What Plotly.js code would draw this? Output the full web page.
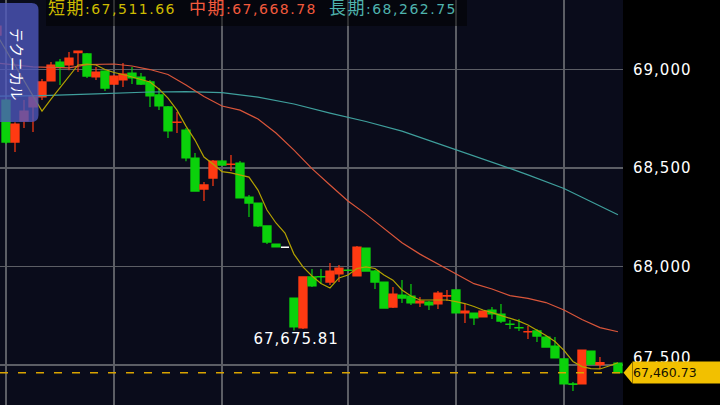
<!DOCTYPE html>
<html>
<head>
<meta charset="utf-8">
<script src="https://cdn.plot.ly/plotly-3.0.1.min.js"></script>
<style>
html,body{margin:0;padding:0;background:#000;overflow:hidden;}
#chart{width:720px;height:405px;}
.ytick text{letter-spacing:1px;}
.annotation[data-index="0"] .annotation-text,
.annotation[data-index="1"] .annotation-text,
.annotation[data-index="2"] .annotation-text{letter-spacing:1.5px;}
.annotation[data-index="3"] .annotation-text{letter-spacing:1px;}
.annotation[data-index="4"] .annotation-text{letter-spacing:1px;}
</style>
</head>
<body>
<div id="chart"></div>
<script>
// ---- data ----
const idx = [-1,0,1,2,3,4,5,6,7,8,9,10,11,12,13,14,15,16,17,18,19,20,21,22,23,24,25,26,27,28,29,30,31,32,33,34,35,36,37,38,39,40,41,42,43,44,45,46,47,48,49,50,51,52,53,54,55,56,57,58,59,60,61,62,63,64,65,66,68];
const opens = [69175,68845,68632,68739,68810,68861,68942,69038,69023,69086,69079,68962,68992,68926,68947,68982,68962,68937,68871,68810,68731,68693,68551,68393,68449,68535,68518,68525,68353,68322,68206,68114,68098,67840,67688,67947,67949,67921,67962,67982,67952,68094,67977,67921,67794,67855,67850,67815,67820,67810,67850,67881,67764,67764,67744,67779,67759,67708,67690,67668,67673,67642,67596,67531,67404,67404,67571,67502,67510];
const highs = [69231,68850,68733,68845,68866,68952,69038,69053,69089,69094,69084,69013,68997,68972,69033,69013,68982,68947,68906,68815,68784,68703,68576,68429,68541,68541,68566,68536,68363,68322,68206,68114,68098,67840,67947,67987,67987,68018,68008,67985,68104,68094,67982,67921,67896,67931,67911,67845,67825,67876,67881,67881,67810,67764,67774,67794,67810,67728,67734,67698,67683,67647,67642,67536,67414,67576,67571,67541,67510];
const lows = [69165,68622,68581,68703,68683,68845,68942,68921,68997,68987,68957,68947,68891,68921,68911,68926,68921,68810,68794,68652,68678,68535,68383,68333,68409,68515,68485,68348,68251,68201,68114,68099,68098,67675.81,67683,67896,67911,67906,67921,67977,67952,67977,67886,67789,67789,67815,67805,67794,67779,67784,67825,67764,67713,67703,67744,67734,67713,67683,67673,67632,67617,67591,67536,67404,67368,67404,67500,67480,67460.73];
const closes = [69221,68632,68723,68789,68861,68937,69023,69013,69058,69094,68967,68987,68906,68967,68977,68957,68926,68866,68815,68688,68733,68551,68383,68414,68535,68515,68520,68348,68322,68206,68124,68099,68098,67693,67947,67901,67947,67977,67992,67980,68099,67977,67921,67789,67860,67840,67815,67825,67805,67865,67852,67764,67774,67739,67774,67759,67723,67706,67688,67669,67647,67591,67536,67404,67401,67576,67505,67512,67460.73];

const shortIdx = [-1,0,1,2,3,4,5,6,7,8,9,10,11,12,13,14,15,16,17,18,19,20,21,22,23,24,25,26,27,28,29,30,31,32,33,34,35,36,37,38,39,40,41,42,43,44,45,46,47,48,49,50,51,52,53,54,55,56,57,58,59,60,61,62,63,64,65,66,67,68];
const shortMA = [69175,69099,69023,68947,68865,68789,68850,68906,68964,69023,69028,69023,69000,68985,68975,68962,68949,68937,68901,68855,68794,68713,68642,68556,68520,68482,68475,68464,68454,68388,68287,68221,68170,68063,67998,67952,67914,67891,67942,67957,67990,67998,67990,67957,67931,67881,67850,67830,67830,67830,67830,67822,67812,67797,67779,67766,67751,67739,67723,67703,67678,67650,67619,67574,67518,67492,67482,67480,67495,67511.66];
const midIdx = [-1,0,3,7,9,12,14,16,18,20,22,24,26,28,30,32,34,36,38,40,42,44,46,48,50,52,54,56,58,60,62,64,66,68];
const midMA = [69033,69028,69013,69008,69025,69028,69018,69000,68975,68921,68863,68815,68794,68749,68678,68591,68497,68414,68333,68266,68195,68121,68063,68013,67959,67913,67886,67852,67838,67817,67779,67731,67690,67668.78];
const longIdx = [-1,4,10,16,20,24,28,32,36,40,44,48,52,56,58,60,62,64,66,68];
const longMA = [68865,68868,68876,68886,68888,68883,68860,68825,68779,68736,68687,68625,68563,68498,68465,68430,68396,68352,68308,68262.75];

const maNames = ['短期','中期','長期'];
const yTicks = [67500,68000,68500,69000];
const gridIdx = [0,12,24,38,50,62];
const buttonLabel = 'テクニカル';

// ---- styles ----
const RED = '#ff3a12', GREEN = '#0bd10b';
const MA_LINE = ['#b3a200','#d9553a','#3f9f9c'];
const MA_TEXT = ['#cdbb00','#f25a3d','#4fb3ad'];
const TAG = '#f2c000';
const FONT = 'DejaVu Sans, Noto Sans CJK JP, sans-serif';
const W = 623, H = 405;
const yRange = [67297, 69353];
const xRange = [-0.667, 68.56];

const fmt = v => v.toLocaleString('en-US',{minimumFractionDigits:2, maximumFractionDigits:2});
const fmt0 = v => v.toLocaleString('en-US');

// split flat (unchanged) candles
const nrm = {x:[],o:[],h:[],l:[],c:[]}, flat = {x:[],o:[],h:[],l:[],c:[]};
idx.forEach((x,i)=>{
  const t = (opens[i]===closes[i]) ? flat : nrm;
  t.x.push(x); t.o.push(opens[i]); t.h.push(highs[i]); t.l.push(lows[i]); t.c.push(closes[i]);
});

const traces = [
  {type:'scatter', mode:'lines', x:longIdx, y:longMA, line:{color:MA_LINE[2], width:1.2}, hoverinfo:'skip'},
  {type:'scatter', mode:'lines', x:midIdx, y:midMA, line:{color:MA_LINE[1], width:1.2}, hoverinfo:'skip'},
  {type:'candlestick', x:nrm.x, open:nrm.o, high:nrm.h, low:nrm.l, close:nrm.c, whiskerwidth:0,
   increasing:{line:{color:RED, width:1.2}, fillcolor:RED},
   decreasing:{line:{color:GREEN, width:1.2}, fillcolor:GREEN}, hoverinfo:'skip'},
  {type:'candlestick', x:flat.x, open:flat.o, high:flat.h, low:flat.l, close:flat.c, whiskerwidth:0,
   increasing:{line:{color:'#ffffff', width:1.5}, fillcolor:'#ffffff'},
   decreasing:{line:{color:'#ffffff', width:1.5}, fillcolor:'#ffffff'}, hoverinfo:'skip'},
  {type:'scatter', mode:'lines', x:shortIdx, y:shortMA, line:{color:MA_LINE[0], width:1.2}, hoverinfo:'skip'}
];

const lastClose = closes[closes.length-1];
let minI = 1; lows.forEach((v,i)=>{ if(i>0 && i<40 && v<lows[minI]) minI=i; });

function P(x,y){ return (x/W).toFixed(5)+','+(1-y/H).toFixed(5); }
const btnPath = 'M'+P(-6,3)+' L'+P(31.5,3)+' Q'+P(38.5,3)+' '+P(38.5,10)+' L'+P(38.5,115)+' Q'+P(38.5,122)+' '+P(31.5,122)+' L'+P(-6,122)+' Z';

const maLast = [shortMA[shortMA.length-1], midMA[midMA.length-1], longMA[longMA.length-1]];
const legendX = [46.7, 188, 328];

const annotations = maNames.map((n,k)=>({
  xref:'paper', yref:'paper', x:legendX[k]/W, y:1-8/H, xanchor:'left', yanchor:'middle', align:'left',
  text:'<span style="font-size:17px">'+n+'</span>:'+fmt(maLast[k]), showarrow:false,
  font:{family:FONT, size:14, color:MA_TEXT[k]}, borderpad:0
}));
annotations.push({xref:'x', yref:'y', x:idx[minI], y:lows[minI], xshift:2.5, yshift:1, xanchor:'center', yanchor:'top',
  text:fmt(lows[minI]), showarrow:false, font:{family:FONT, size:15, color:'#ffffff'}, borderpad:0});
// lowest y tick label, lifted above the price tag
annotations.push({xref:'paper', yref:'y', x:1, xshift:9, y:yTicks[0], yshift:7, xanchor:'left', yanchor:'middle', align:'left',
  text:fmt0(yTicks[0]), showarrow:false, font:{family:FONT, size:15, color:'#ffffff'}, borderpad:0});
// price tag body
annotations.push({xref:'paper', yref:'y', x:1, xshift:8.7, y:lastClose, xanchor:'left', yanchor:'middle', align:'left',
  width:88, height:21, bgcolor:TAG, borderpad:0,
  text:fmt(lastClose), showarrow:false, font:{family:FONT, size:12.5, color:'#181200'}});
annotations.push({xref:'paper', yref:'paper', x:17.5/W, y:1-64.5/H, xanchor:'center', yanchor:'middle', textangle:90,
  text:buttonLabel, showarrow:false, font:{family:'Noto Sans CJK JP, sans-serif', size:14.5, color:'#ffffff'}});

const GRID = '#5c5e65';
const layout = {
  width:720, height:405, margin:{l:0, r:97, t:0, b:0},
  paper_bgcolor:'#000000', plot_bgcolor:'#0a0c1b',
  showlegend:false, hovermode:false, dragmode:false,
  boxgap:0.1, boxgroupgap:0,
  font:{family:FONT, color:'#ffffff'},
  xaxis:{range:xRange, rangeslider:{visible:false}, tickvals:gridIdx, showticklabels:false, ticks:'',
    showgrid:true, gridcolor:GRID, gridwidth:1.2, zeroline:false,
    showline:true, linecolor:GRID, linewidth:2, fixedrange:true},
  yaxis:{range:yRange, side:'right', tickvals:yTicks, ticktext:yTicks.map((v,i)=> i===0 ? '' : fmt0(v)),
    showgrid:true, gridcolor:GRID, gridwidth:1.2, zeroline:false, ticks:'', ticklabelstandoff:9,
    tickfont:{family:FONT, size:15, color:'#ffffff'}, automargin:false, fixedrange:true},
  shapes:[
    {type:'line', xref:'paper', yref:'y', x0:0, x1:1, y0:lastClose, y1:lastClose, layer:'above',
      line:{color:'#d9a300', width:1.5, dash:'8px,10px'}},
    {type:'path', xref:'paper', yref:'y', xsizemode:'pixel', ysizemode:'pixel', xanchor:1, yanchor:lastClose,
      path:'M 0.5,0 L 9.2,10.5 L 9.2,-10.5 Z', fillcolor:TAG, line:{width:0}, layer:'above'},
    {type:'rect', xref:'paper', yref:'paper', x0:46/W, x1:467/W, y0:1-26/H, y1:1.01,
      fillcolor:'rgba(0,0,0,0.5)', line:{width:0}, layer:'above'},
    {type:'path', xref:'paper', yref:'paper', path:btnPath, fillcolor:'rgba(78,88,190,0.78)', line:{width:0}, layer:'above'}
  ],
  annotations:annotations
};

Plotly.newPlot('chart', traces, layout, {staticPlot:true, displayModeBar:false});
</script>
</body>
</html>
